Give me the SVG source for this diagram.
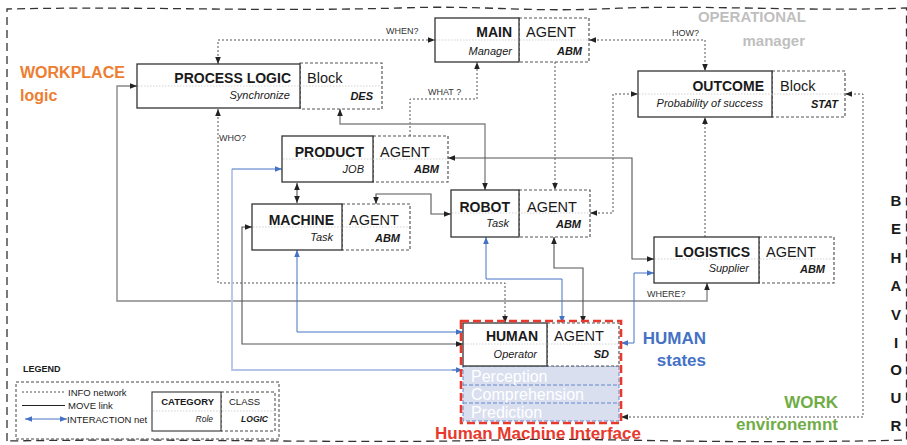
<svg xmlns="http://www.w3.org/2000/svg" width="907" height="445" viewBox="0 0 907 445">
<style>
text{font-family:"Liberation Sans",Arial,sans-serif;fill:#1a1a1a}
.box{fill:#fff;stroke:#333;stroke-width:1.3}
.agent{fill:#fff;stroke:#555;stroke-width:1.2;stroke-dasharray:3 2}
.mid{stroke:#c8c8c8;stroke-width:0.8;stroke-dasharray:1.5 1.5}
.t{font-size:14px;font-weight:bold;text-anchor:end}
.a{font-size:14.5px}
.s{font-size:11px;font-style:italic;text-anchor:end}
.c{font-size:11px;font-style:italic;font-weight:bold;text-anchor:end}
.q{font-size:9px;fill:#333}
.info{fill:none;stroke:#555;stroke-width:1;stroke-dasharray:2 2}
.move{fill:none;stroke:#555;stroke-width:1.1}
.movel{fill:none;stroke:#888;stroke-width:1.4}
.inter{fill:none;stroke:#4472C4;stroke-width:1}
.interl{fill:none;stroke:#B4C5E8;stroke-width:1.8}
.beh{font-size:15px;font-weight:bold;text-anchor:middle}
.lg{font-size:9.5px}
</style>
<defs>
<marker id="ak" viewBox="0 0 10 10" refX="10" refY="5" markerWidth="7" markerHeight="7" markerUnits="userSpaceOnUse" orient="auto-start-reverse"><path d="M0,1 L10,5 L0,9 z" fill="#222"/></marker>
<marker id="ab" viewBox="0 0 10 10" refX="10" refY="5" markerWidth="7" markerHeight="7" markerUnits="userSpaceOnUse" orient="auto-start-reverse"><path d="M0,1 L10,5 L0,9 z" fill="#4472C4"/></marker>
</defs>
<rect width="907" height="445" fill="#fff"/>
<!-- outer frame -->
<path d="M7,441 L7,9 C150,6 250,12 400,8 C480,5 520,12 600,9 C700,4 800,12 906.5,8 L906.5,440 C700,445 600,437 500,440 C350,444 200,438 7,441" fill="none" stroke="#333" stroke-width="1.3" stroke-dasharray="8 5"/>

<!-- region labels -->
<g id="labels">
<text x="20" y="78" style="font-size:16px;font-weight:bold;fill:#ED7D31">WORKPLACE</text>
<text x="20" y="101" style="font-size:16px;font-weight:bold;fill:#ED7D31">logic</text>
<text x="806" y="22" style="font-size:15px;font-weight:bold;fill:#BFBFBF;text-anchor:end">OPERATIONAL</text>
<text x="805" y="46" style="font-size:15px;font-weight:bold;fill:#BFBFBF;text-anchor:end">manager</text>
<text x="706" y="344" style="font-size:17px;font-weight:bold;fill:#4472C4;text-anchor:end">HUMAN</text>
<text x="706" y="366" style="font-size:17px;font-weight:bold;fill:#4472C4;text-anchor:end">states</text>
<text x="838" y="408" style="font-size:17px;font-weight:bold;fill:#70AD47;text-anchor:end">WORK</text>
<text x="838" y="430" style="font-size:17px;font-weight:bold;fill:#70AD47;text-anchor:end">environemnt</text>
<text x="538" y="439" style="font-size:17px;font-weight:bold;fill:#E8392C;text-anchor:middle">Human Machine Interface</text>
<text x="896" y="206" class="beh">B</text>
<text x="896" y="234" class="beh">E</text>
<text x="896" y="263" class="beh">H</text>
<text x="896" y="291" class="beh">A</text>
<text x="896" y="320" class="beh">V</text>
<text x="896" y="348" class="beh">I</text>
<text x="896" y="375" class="beh">O</text>
<text x="896" y="403" class="beh">U</text>
<text x="896" y="431" class="beh">R</text>
</g>

<!-- connectors -->
<g id="connectors">
<path class="info" d="M218,64 V40 H435" marker-start="url(#ak)" marker-end="url(#ak)"/>
<path class="info" d="M589,40 H705 V71" marker-start="url(#ak)" marker-end="url(#ak)"/>
<path class="info" d="M410,136 V99 H477 V62" marker-end="url(#ak)"/>
<path class="info" d="M555,62 V190" marker-end="url(#ak)"/>
<path class="info" d="M590,213 H613 V94 H638" marker-start="url(#ak)" marker-end="url(#ak)"/>
<path class="info" d="M621,417 H863 V94 H845" marker-start="url(#ak)" marker-end="url(#ak)"/>
<path class="info" d="M705,237 V117" marker-end="url(#ak)"/>
<path class="info" d="M218,109 V283 H505 V323" marker-start="url(#ak)" marker-end="url(#ak)"/>
<path class="movel" d="M340,109 V124 H485 V190" marker-start="url(#ak)" marker-end="url(#ak)"/>
<path class="movel" d="M137,86 H117 V301 H707 V283" marker-start="url(#ak)" marker-end="url(#ak)"/>
<path class="move" d="M448,158 H632 V259 H654" marker-start="url(#ak)" marker-end="url(#ak)"/>
<path class="move" d="M297,183 V203" marker-start="url(#ak)" marker-end="url(#ak)"/>
<path class="move" d="M376,204 V194 H431 V214 H451" marker-start="url(#ak)" marker-end="url(#ak)"/>
<path class="move" d="M252,227 H242 V344 H463" marker-start="url(#ak)" marker-end="url(#ak)"/>
<path class="move" d="M554,237 V268 H583 V323" marker-start="url(#ak)" marker-end="url(#ak)"/>
<path class="inter" d="M297,250 V332 H463" marker-start="url(#ab)" marker-end="url(#ab)"/>
<path class="interl" d="M232,169 V370 H458"/>
<path class="inter" d="M232,169 H282" marker-end="url(#ab)"/>
<path class="inter" d="M452,370 H463" marker-end="url(#ab)"/>
<path class="inter" d="M486,237 V279 H562 V323" marker-start="url(#ab)" marker-end="url(#ab)"/>
<path class="inter" d="M654,273 H634 V343 H621" marker-start="url(#ab)" marker-end="url(#ab)"/>
<text x="386" y="34" class="q">WHEN?</text>
<text x="672" y="36" class="q">HOW?</text>
<text x="428" y="95" class="q">WHAT ?</text>
<text x="219" y="141" class="q">WHO?</text>
<text x="647" y="297" class="q">WHERE?</text>
</g>

<!-- nodes -->
<g id="main">
<rect class="agent" x="519" y="18" width="70" height="44"/>
<rect class="box" x="435" y="18" width="84" height="44"/>
<line class="mid" x1="436" y1="40" x2="588" y2="40"/>
<text x="512" y="37" class="t">MAIN</text>
<text x="512" y="55" class="s">Manager</text>
<text x="526" y="37" class="a">AGENT</text>
<text x="582" y="55" class="c">ABM</text>
</g>
<g id="process-logic">
<rect class="agent" x="300" y="63" width="82" height="46"/>
<rect class="box" x="137" y="64" width="163" height="44"/>
<line class="mid" x1="138" y1="86" x2="381" y2="86"/>
<text x="291" y="83" class="t">PROCESS LOGIC</text>
<text x="290" y="99" class="s">Synchronize</text>
<text x="307" y="83" class="a">Block</text>
<text x="373" y="100" class="c">DES</text>
</g>
<g id="outcome">
<rect class="agent" x="772" y="71" width="73" height="46"/>
<rect class="box" x="638" y="71" width="134" height="46"/>
<line class="mid" x1="639" y1="94" x2="844" y2="94"/>
<text x="764" y="91" class="t">OUTCOME</text>
<text x="763" y="107" class="s">Probability of success</text>
<text x="780" y="91" class="a">Block</text>
<text x="838" y="108" class="c">STAT</text>
</g>
<g id="product">
<rect class="agent" x="373" y="136" width="75" height="46"/>
<rect class="box" x="282" y="136" width="91" height="46"/>
<line class="mid" x1="283" y1="159" x2="447" y2="159"/>
<text x="364" y="157" class="t">PRODUCT</text>
<text x="364" y="173" class="s">JOB</text>
<text x="380" y="157" class="a">AGENT</text>
<text x="439" y="173" class="c">ABM</text>
</g>
<g id="machine">
<rect class="agent" x="342" y="204" width="68" height="46"/>
<rect class="box" x="252" y="204" width="90" height="46"/>
<line class="mid" x1="253" y1="227" x2="409" y2="227"/>
<text x="334" y="225" class="t">MACHINE</text>
<text x="333" y="241" class="s">Task</text>
<text x="349" y="225" class="a">AGENT</text>
<text x="400" y="242" class="c">ABM</text>
</g>
<g id="robot">
<rect class="agent" x="519" y="190" width="71" height="47"/>
<rect class="box" x="451" y="190" width="68" height="47"/>
<line class="mid" x1="452" y1="213" x2="589" y2="213"/>
<text x="510" y="212" class="t">ROBOT</text>
<text x="509" y="227" class="s">Task</text>
<text x="527" y="212" class="a">AGENT</text>
<text x="581" y="228" class="c">ABM</text>
</g>
<g id="logistics">
<rect class="agent" x="759" y="237" width="75" height="46"/>
<rect class="box" x="654" y="237" width="105" height="46"/>
<line class="mid" x1="655" y1="259" x2="833" y2="259"/>
<text x="750" y="257" class="t">LOGISTICS</text>
<text x="749" y="272" class="s">Supplier</text>
<text x="766" y="257" class="a">AGENT</text>
<text x="825" y="273" class="c">ABM</text>
</g>
<g id="human">
<rect x="463" y="366" width="156" height="55" fill="#D9DFEF"/>
<line x1="463" y1="385" x2="619" y2="385" stroke="#4472C4" stroke-width="0.8" stroke-dasharray="4 2"/>
<line x1="463" y1="403" x2="619" y2="403" stroke="#4472C4" stroke-width="0.8" stroke-dasharray="4 2"/>
<rect x="463" y="366" width="156" height="55" fill="none" stroke="#4472C4" stroke-width="0.8" stroke-dasharray="4 2"/>
<rect class="agent" x="547" y="323" width="72" height="43"/>
<rect class="box" x="463" y="323" width="84" height="43"/>
<line class="mid" x1="464" y1="344" x2="618" y2="344"/>
<text x="538" y="341" class="t">HUMAN</text>
<text x="537" y="358" class="s">Operator</text>
<text x="554" y="341" class="a">AGENT</text>
<text x="609" y="358" class="c">SD</text>
<text x="471" y="382" style="font-size:16px;fill:#fff">Perception</text>
<text x="471" y="400" style="font-size:16px;fill:#fff">Comprehension</text>
<text x="471" y="418" style="font-size:16px;fill:#fff">Prediction</text>
<rect x="461" y="321" width="160" height="102" fill="none" stroke="#E8392C" stroke-width="2.6" stroke-dasharray="8 4"/>
</g>

<!-- legend -->
<g id="legend">
<text x="23" y="372" style="font-size:9px;font-weight:bold">LEGEND</text>
<rect x="16" y="382" width="263" height="57" fill="none" stroke="#444" stroke-width="1" stroke-dasharray="3 2"/>
<line x1="22" y1="392" x2="66" y2="392" class="info"/>
<text x="68" y="396" class="lg">INFO network</text>
<line x1="22" y1="405.5" x2="65" y2="405.5" stroke="#222" stroke-width="1"/>
<text x="68" y="409" class="lg">MOVE  link</text>
<path d="M25,419 H67" class="inter" marker-start="url(#ab)" marker-end="url(#ab)"/>
<text x="67" y="423" class="lg">INTERACTION net</text>
<rect x="221" y="392" width="54" height="39" fill="#fff" stroke="#444" stroke-width="1" stroke-dasharray="3 2"/>
<rect x="152" y="392" width="69" height="39" fill="#fff" stroke="#333" stroke-width="1.1"/>
<line class="mid" x1="153" y1="411" x2="274" y2="411"/>
<text x="214" y="405" style="font-size:9.5px;font-weight:bold;text-anchor:end">CATEGORY</text>
<text x="213" y="422" style="font-size:8.5px;font-style:italic;text-anchor:end">Role</text>
<text x="229" y="405" style="font-size:9.5px">CLASS</text>
<text x="268" y="422" style="font-size:8.5px;font-style:italic;font-weight:bold;text-anchor:end">LOGIC</text>
</g>
</svg>
